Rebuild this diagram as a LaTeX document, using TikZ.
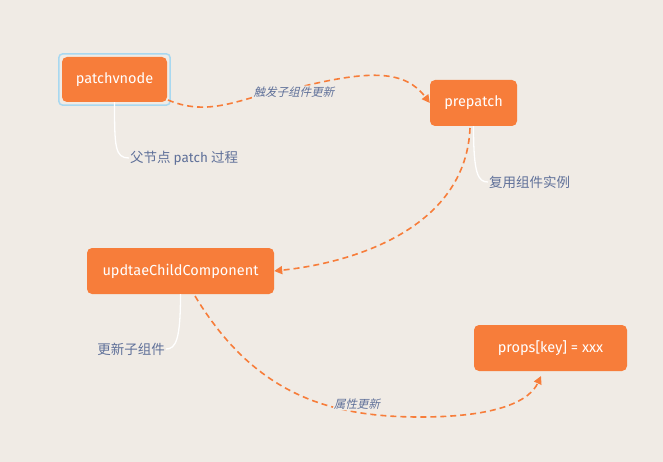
\documentclass[tikz,border=0pt]{standalone}
\usepackage{fontspec}
\setmainfont{Fira Sans}
\newfontfamily\cjk{Noto Sans CJK SC}
\usetikzlibrary{arrows.meta,fit}
\definecolor{bg}{HTML}{F0EBE5}
\definecolor{topicorange}{HTML}{F77D3A}
\definecolor{notegray}{HTML}{5F7099}
\definecolor{selblue}{HTML}{A8D8F0}
\tikzset{
  topic/.style={fill=topicorange, rounded corners=5pt, text=white, inner sep=0pt,
    font=\fontsize{14.5}{16}\selectfont},
  note/.style={text=notegray, inner sep=1pt, font=\cjk\fontsize{13.5}{15}\selectfont},
  flowlabel/.style={text=notegray, inner sep=1pt, fill=bg, font=\cjk\fontsize{11.5}{13}\selectfont, xslant=0.25},
  branch/.style={draw=white, line width=1.3pt},
  flow/.style={draw=topicorange, line width=1.6pt, dash pattern=on 6pt off 4pt,
    -{Triangle[length=8pt,width=8pt]}}
}
\begin{document}
\begin{tikzpicture}[x=1pt,y=-1pt]
    \fill[bg] (0,0) rectangle (663,462);
    \useasboundingbox (0,0) rectangle (663,462);

    \node[topic, minimum width=105pt, minimum height=45pt] (patchvnode) at (114.5,79.5) {patchvnode};
    \node[draw=selblue, line width=1.5pt, rounded corners=4pt, inner sep=3pt, fit=(patchvnode)] (sel) {};
    \node[topic, minimum width=87pt, minimum height=46pt] (prepatch) at (473.5,103) {prepatch};
    \node[topic, minimum width=187pt, minimum height=46pt] (update) at (180.5,271) {updtaeChildComponent};
    \node[topic, minimum width=153pt, minimum height=46pt] (props) at (550.5,348) {props[key] = xxx};

    \node[note, anchor=west] (parentpatch) at (129,158) {父节点 {\fontspec{Fira Sans}patch} 过程};
    \node[note, anchor=west] (reuse) at (488,182) {复用组件实例};
    \node[note, anchor=east] (updchild) at (166,349) {更新子组件};

    \draw[branch] (patchvnode.south) .. controls +(0,45) and +(-14,0) .. (parentpatch.west);
    \draw[branch] (prepatch.south) .. controls +(0,48) and +(-10,0) .. (reuse.west);
    \draw[branch] (update.south) .. controls +(0,45) and +(10,0) .. (updchild.east);

    \draw[flow] (168,100) .. controls (215,120) and (250,92) .. (300,87)
      .. controls (370,70) and (405,70) .. (prepatch.west);
    \node[flowlabel] (trigger) at (295,92) {触发子组件更新};

    \draw[flow] (470,128) .. controls (466,225) and (360,262) .. (update.east);

    \draw[flow] (195,296) .. controls (255,395) and (330,417) .. (420,417)
      .. controls (500,417) and (530,400) .. (541,376);
    \node[flowlabel] (propupd) at (358,404) {属性更新};
\end{tikzpicture}
\end{document}
